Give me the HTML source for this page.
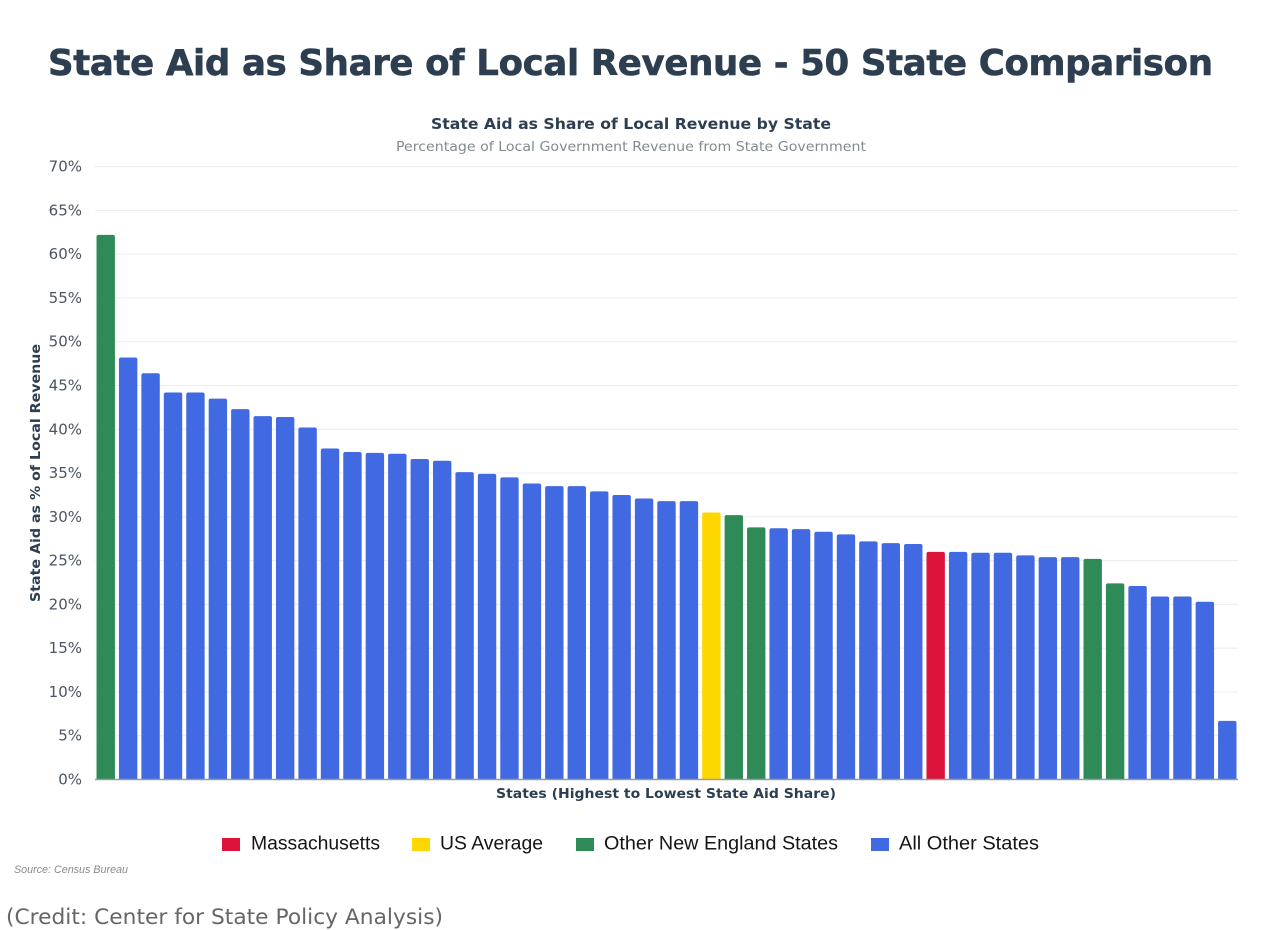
<!DOCTYPE html>
<html>
<head>
<meta charset="utf-8">
<style>
html,body{margin:0;padding:0;background:#fff;width:1274px;height:930px;overflow:hidden}
svg{display:block;filter:blur(0.35px)}
</style>
</head>
<body>
<svg id="chart" width="1274" height="930" viewBox="0 0 1274 930" xmlns="http://www.w3.org/2000/svg">
<text x="48" y="75" font-family="'DejaVu Sans',sans-serif" font-weight="700" font-size="35.5" fill="#2c3e50" stroke="#2c3e50" stroke-width="0.6" textLength="1165" lengthAdjust="spacing">State Aid as Share of Local Revenue - 50 State Comparison</text>
<text x="631" y="129" text-anchor="middle" font-family="'DejaVu Sans',sans-serif" font-weight="700" font-size="15.5" fill="#2c3e50" textLength="400" lengthAdjust="spacingAndGlyphs">State Aid as Share of Local Revenue by State</text>
<text x="631" y="151" text-anchor="middle" font-family="'DejaVu Sans',sans-serif" font-size="13.5" fill="#7f8c8d" textLength="470" lengthAdjust="spacingAndGlyphs">Percentage of Local Government Revenue from State Government</text>
<g id="grid"></g>
<g id="ylabels"></g>
<g id="bars"></g>
<line x1="95" x2="1238" y1="779.5" y2="779.5" stroke="#9a9a9a" stroke-width="1.5"/>
<text transform="translate(40,473) rotate(-90)" text-anchor="middle" font-family="'DejaVu Sans',sans-serif" font-weight="700" font-size="13.5" fill="#2c3e50" textLength="258" lengthAdjust="spacingAndGlyphs">State Aid as % of Local Revenue</text>
<text x="666" y="798" text-anchor="middle" font-family="'DejaVu Sans',sans-serif" font-weight="700" font-size="13.5" fill="#2c3e50" textLength="340" lengthAdjust="spacingAndGlyphs">States (Highest to Lowest State Aid Share)</text>
<g font-family="'Liberation Sans',sans-serif" font-size="19" fill="#151515">
<g>
<rect x="222" y="838" width="18" height="13" fill="#dc143c"/>
<text x="251" y="849.5" textLength="129" lengthAdjust="spacingAndGlyphs">Massachusetts</text>
</g>
<g>
<rect x="412" y="838" width="18" height="13" fill="#ffd700"/>
<text x="440" y="849.5" textLength="103" lengthAdjust="spacingAndGlyphs">US Average</text>
</g>
<g>
<rect x="576" y="838" width="18" height="13" fill="#2e8b57"/>
<text x="604" y="849.5" textLength="234" lengthAdjust="spacingAndGlyphs">Other New England States</text>
</g>
<g>
<rect x="871" y="838" width="18" height="13" fill="#4169e1"/>
<text x="899" y="849.5" textLength="140" lengthAdjust="spacingAndGlyphs">All Other States</text>
</g>
</g>
<text x="14" y="873" font-family="'Liberation Sans',sans-serif" font-style="italic" font-size="11" fill="#8a8a8a" textLength="114" lengthAdjust="spacingAndGlyphs">Source: Census Bureau</text>
<text x="6" y="924" font-family="'DejaVu Sans',sans-serif" font-size="21" fill="#666" textLength="437" lengthAdjust="spacingAndGlyphs">(Credit: Center for State Policy Analysis)</text>
</svg>
<script>
var ranks = [1,2,3,4,5,6,7,8,9,10,11,12,13,14,15,16,17,18,19,20,21,22,23,24,25,26,27,28,29,30,31,32,33,34,35,36,37,38,39,40,41,42,43,44,45,46,47,48,49,50,51];
var shareValues = [62.2,48.2,46.4,44.2,44.2,43.5,42.3,41.5,41.4,40.2,37.8,37.4,37.3,37.2,36.6,36.4,35.1,34.9,34.5,33.8,33.5,33.5,32.9,32.5,32.1,31.8,31.8,30.5,30.2,28.8,28.7,28.6,28.3,28.0,27.2,27.0,26.9,26.0,26.0,25.9,25.9,25.6,25.4,25.4,25.2,22.4,22.1,20.9,20.9,20.3,6.7];
var groups = ['ne','o','o','o','o','o','o','o','o','o','o','o','o','o','o','o','o','o','o','o','o','o','o','o','o','o','o','us','ne','ne','o','o','o','o','o','o','o','ma','o','o','o','o','o','o','ne','ne','o','o','o','o','o'];
var yTicks = [0,5,10,15,20,25,30,35,40,45,50,55,60,65,70];

var NS = 'http://www.w3.org/2000/svg';
var groupColor = {ne:'#2e8b57', o:'#4169e1', us:'#ffd700', ma:'#dc143c'};
var plotLeft = 94.5, plotRight = 1238.5, plotBottom = 779.5, plotTop = 166.6;
function yScale(v){ return plotBottom - (v / 70) * (plotBottom - plotTop); }
function xBand(i){ return plotLeft + i * (plotRight - plotLeft) / ranks.length; }
var bandWidth = (plotRight - plotLeft) / ranks.length;
var barWidth = bandWidth * 0.82;

var gridG = document.getElementById('grid');
var labelG = document.getElementById('ylabels');
yTicks.forEach(function(t){
  var y = yScale(t);
  if (t > 0) {
    var ln = document.createElementNS(NS, 'line');
    
    
    ln.setAttribute('x1', 95);
    ln.setAttribute('x2', 1238);
    ln.setAttribute('y1', y);
    ln.setAttribute('y2', y);
    ln.setAttribute('stroke', '#ececec');
    ln.setAttribute('stroke-width', '1');
    gridG.appendChild(ln);
  }
  var tx = document.createElementNS(NS, 'text');
  
  
  tx.setAttribute('x', 82);
  tx.setAttribute('y', y + 5);
  tx.setAttribute('text-anchor', 'end');
  tx.setAttribute('font-family', "'DejaVu Sans',sans-serif");
  tx.setAttribute('font-size', '15');
  tx.setAttribute('fill', '#4a5563');
  tx.textContent = t + '%';
  labelG.appendChild(tx);
});

var barG = document.getElementById('bars');
shareValues.forEach(function(v, i){
  var x = xBand(i) + (bandWidth - barWidth) / 2;
  var top = yScale(v);
  var r = 2;
  var p = document.createElementNS(NS, 'path');
  
  
  p.setAttribute('d', 'M' + x + ' ' + plotBottom + 'V' + (top + r) + 'Q' + x + ' ' + top + ' ' + (x + r) + ' ' + top + 'H' + (x + barWidth - r) + 'Q' + (x + barWidth) + ' ' + top + ' ' + (x + barWidth) + ' ' + (top + r) + 'V' + plotBottom + 'Z');
  p.setAttribute('fill', groupColor[groups[i]]);
  barG.appendChild(p);
});
</script>
</body>
</html>
